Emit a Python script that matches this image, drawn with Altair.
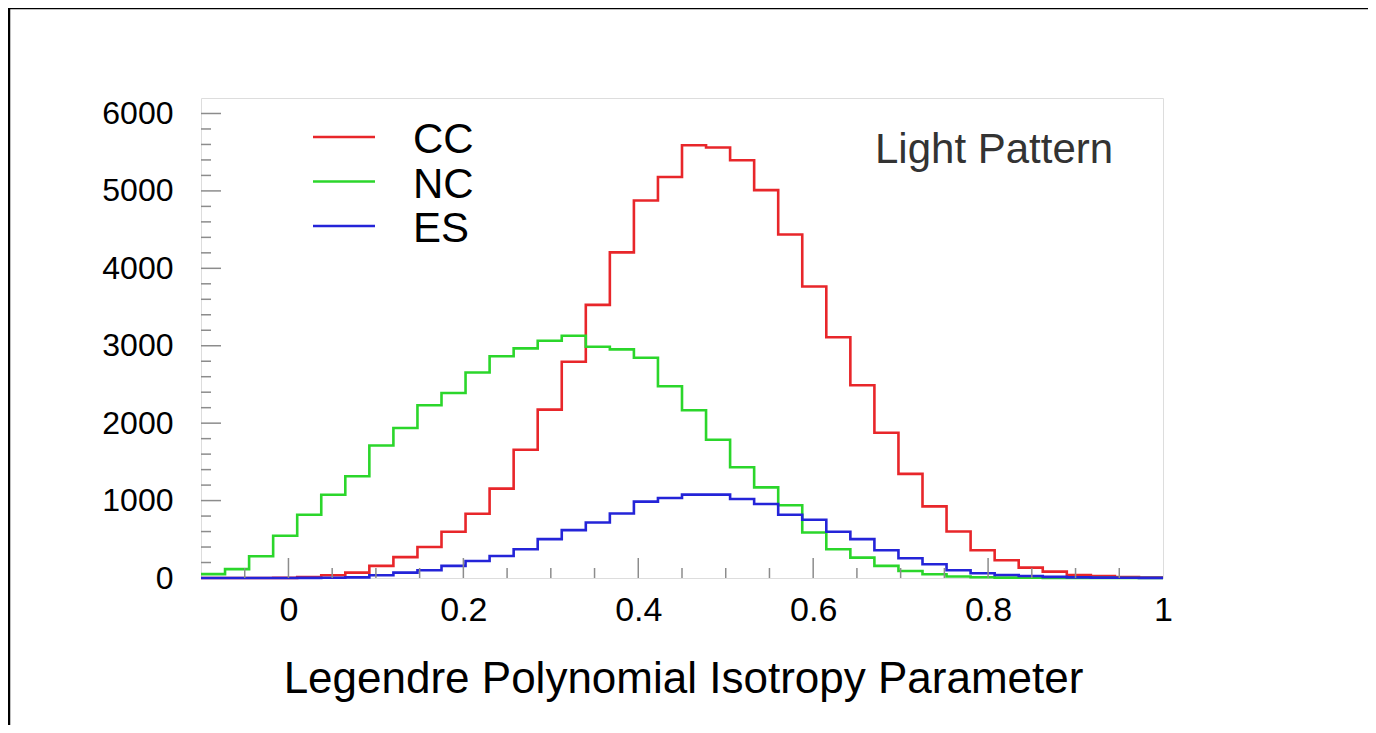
import altair as alt
import pandas as pd

# ---------------- data ----------------
X_MIN, X_MAX = -0.1, 1.0
N_BINS = 40
SERIES = ["CC", "NC", "ES"]
COLORS = ["#e8262a", "#2bd62b", "#2424d8"]

CC = [0, 0, 0, 2, 13, 35, 69, 156, 270, 400, 597, 830, 1155, 1656, 2175, 2793,
      3528, 4206, 4877, 5179, 5590, 5560, 5396, 5010, 4436, 3765, 3109, 2490,
      1877, 1345, 925, 600, 359, 230, 134, 82, 39, 26, 12, 5]
NC = [50, 115, 280, 545, 817, 1076, 1314, 1712, 1937, 2231, 2390, 2655, 2865,
      2966, 3065, 3130, 2987, 2953, 2844, 2477, 2166, 1786, 1431, 1171, 940,
      588, 372, 263, 156, 91, 48, 20, 10, 5, 3, 2, 1, 1, 0, 0]
ES = [0, 0, 0, 0, 2, 3, 8, 35, 69, 100, 156, 220, 285, 372, 502, 619, 717, 834,
      986, 1034, 1077, 1077, 1021, 956, 817, 752, 597, 502, 359, 255, 177, 100,
      61, 39, 25, 15, 8, 5, 3, 2]

X_LABELS = [0, 0.2, 0.4, 0.6, 0.8, 1.0]
Y_LABELS = [0, 1000, 2000, 3000, 4000, 5000, 6000]
X_MAJOR_TICKS = [0, 0.2, 0.4, 0.6, 0.8]
X_MINOR_TICKS = [-0.05, 0.05, 0.1, 0.15, 0.25, 0.3, 0.35, 0.45, 0.5, 0.55,
                 0.65, 0.7, 0.75, 0.85, 0.9, 0.95]
Y_MAJOR_TICKS = [1000, 2000, 3000, 4000, 5000, 6000]
Y_MINOR_TICKS = [v for v in range(200, 6001, 200) if v % 1000 != 0]

X_TITLE = "Legendre Polynomial Isotropy Parameter"
ANNOTATION = "Light Pattern"
Y_TOP = 6200

# ---------------- build table ----------------
width_bin = (X_MAX - X_MIN) / N_BINS
rows = []
for name, vals in zip(SERIES, [CC, NC, ES]):
    for k in range(N_BINS + 1):
        rows.append({"series": name,
                     "x": X_MIN + k * width_bin,
                     "count": vals[min(k, N_BINS - 1)]})
hist = pd.DataFrame(rows)

W, H = 962, 480
FONT = "Liberation Sans"

xscale = alt.Scale(domain=[X_MIN, X_MAX], nice=False, zero=False)
yscale = alt.Scale(domain=[0, Y_TOP], nice=False)

x_axis = alt.Axis(values=X_LABELS, format="~g", labelFontSize=34,
                  labelFont=FONT, labelColor="black", labelPadding=15,
                  labelFlush=False, labelOverlap=False,
                  ticks=False, domain=False, grid=False,
                  title=X_TITLE, titleFont=FONT, titleFontSize=44,
                  titleFontWeight="normal", titleColor="black",
                  titleX=482, titleY=114, titleAlign="center",
                  titleBaseline="alphabetic")
y_axis = alt.Axis(values=Y_LABELS, format="d", labelFontSize=32, labelFont=FONT,
                  labelColor="black", labelPadding=28, labelFlush=False,
                  labelOverlap=False,
                  ticks=False, domain=False, grid=False, title=None)

lines = alt.Chart(hist).mark_line(interpolate="step-after", strokeWidth=2.6).encode(
    x=alt.X("x:Q", scale=xscale, axis=x_axis),
    y=alt.Y("count:Q", scale=yscale, axis=y_axis),
    color=alt.Color("series:N", scale=alt.Scale(domain=SERIES, range=COLORS),
                    legend=None),
    order=alt.Order("x:Q"),
    detail="series:N",
)

TICK_COLOR = "#8c8c8c"


def xticks(vals, length):
    return alt.Chart(pd.DataFrame({"x": vals})).mark_rule(
        color=TICK_COLOR, strokeWidth=1.5).encode(
        x=alt.X("x:Q", scale=xscale, axis=x_axis),
        y=alt.value(H), y2=alt.value(H - length))


def yticks(vals, length):
    return alt.Chart(pd.DataFrame({"count": vals})).mark_rule(
        color=TICK_COLOR, strokeWidth=1.5).encode(
        y=alt.Y("count:Q", scale=yscale, axis=y_axis),
        x=alt.value(0), x2=alt.value(length))


# legend drawn by hand (ROOT style)
one = pd.DataFrame({"a": [0]})
legend_layers = []
for i, (name, col) in enumerate(zip(SERIES, COLORS)):
    yc = 39 + 44.5 * i
    legend_layers.append(
        alt.Chart(one).mark_rule(color=col, strokeWidth=2.6).encode(
            x=alt.value(112), x2=alt.value(174), y=alt.value(yc)))
    legend_layers.append(
        alt.Chart(pd.DataFrame({"t": [name]})).mark_text(
            align="left", baseline="alphabetic", font=FONT, fontSize=42,
            color="black").encode(
            x=alt.value(212), y=alt.value(yc + 16), text="t:N"))

annot = alt.Chart(pd.DataFrame({"t": [ANNOTATION]})).mark_text(
    align="left", baseline="alphabetic", font=FONT, fontSize=42,
    color="#333333").encode(x=alt.value(674), y=alt.value(65), text="t:N")

# outer panel border (black lines at the left and top)
border_v = alt.Chart(one).mark_rule(color="black", strokeWidth=2.5).encode(
    x=alt.value(-192), y=alt.value(-92), y2=alt.value(H + 160))
border_h = alt.Chart(one).mark_rule(color="black", strokeWidth=2.5).encode(
    y=alt.value(-90), x=alt.value(-194), x2=alt.value(W + 220))

chart = alt.layer(
    lines,
    border_v, border_h,
    xticks(X_MAJOR_TICKS, 20), xticks(X_MINOR_TICKS, 10),
    yticks(Y_MAJOR_TICKS, 20), yticks(Y_MINOR_TICKS, 10),
    annot, *legend_layers
).properties(
    width=W, height=H,
    autosize=alt.AutoSizeParams(type="none"),
    padding={"left": 193, "top": 90, "right": 205, "bottom": 147},
).configure_view(
    stroke="#8a8a8a", strokeWidth=2
).configure(background="white")

chart.save("out.html", embed_options={"renderer": "svg", "actions": False})
